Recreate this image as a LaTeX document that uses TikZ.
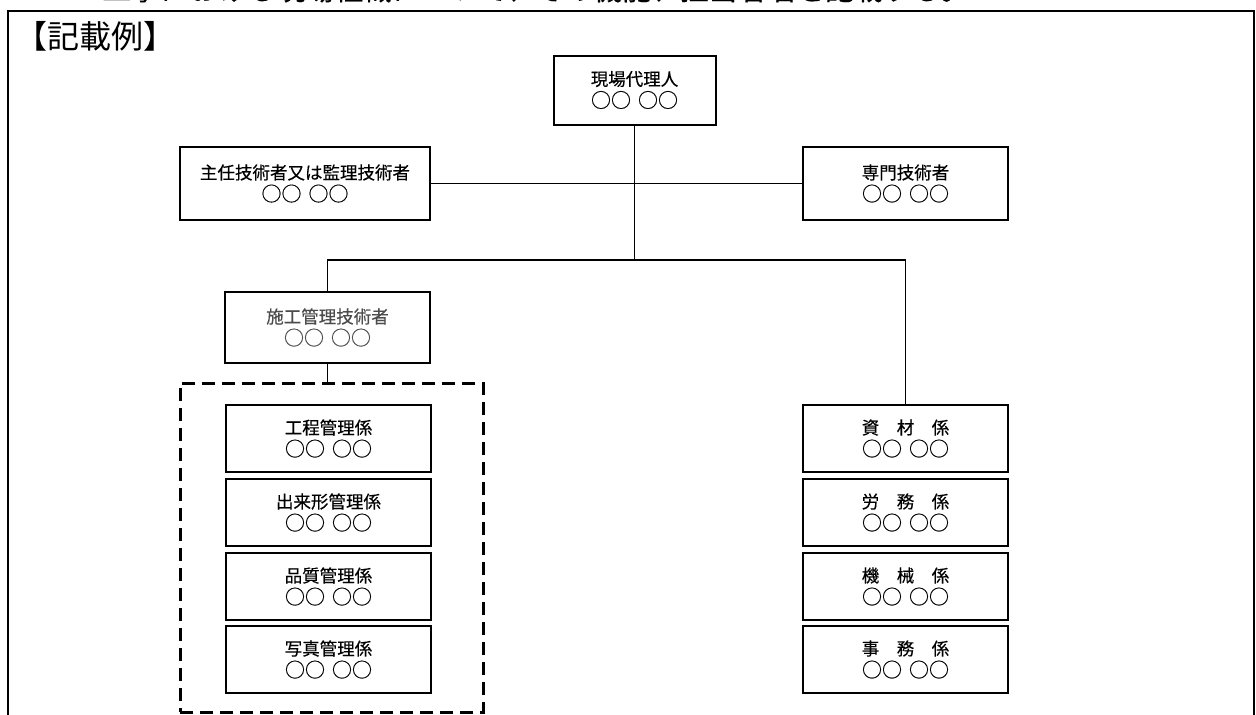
\documentclass[tikz,border=0pt]{standalone}
\usepackage{fontspec}
\setmainfont{Noto Sans CJK JP}
\newfontfamily\boxfont{Noto Sans CJK JP}[FakeBold=0.4]
\newcommand\maru{{\fontsize{20}{22}\selectfont ○○\hspace{7pt}○○}}
\begin{document}
\begin{tikzpicture}[x=1pt,y=-1pt,
  orgbox/.style={draw, line width=2pt, inner sep=0pt, align=center,
    font=\boxfont\fontsize{17.5}{22}\selectfont},
  wide/.style={minimum width=205pt, minimum height=67pt},
  conn/.style={line width=1.5pt},
  grpbox/.style={draw, line width=3pt, dash pattern=on 13pt off 7pt, inner sep=0pt}]
\useasboundingbox (0,0) rectangle (1256,715);
% clipped top line of text
\node[anchor=base west, inner sep=0pt, font=\boxfont\fontsize{29}{29}\selectfont] (toptext) at (73,0) {・工事における現場組織について、その機能、担当者名を記載する。};
% frame
\draw[line width=2pt] (8,715) -- (8,11) -- (1254,11) -- (1254,715);
\node[anchor=north west, inner sep=0pt, font=\fontsize{32}{32}\selectfont] (title) at (15,21) {【記載例】};
% boxes
\node[orgbox, minimum width=162pt, minimum height=69pt] (dairi) at (634.5,90) {現場代理人\\\maru};
\node[orgbox, minimum width=250pt, minimum height=73pt] (shunin) at (305,183.5) {主任技術者又は監理技術者\\\maru};
\node[orgbox, minimum width=205pt, minimum height=73pt] (senmon) at (905.5,183.5) {専門技術者\\\maru};
\node[orgbox, minimum width=205pt, minimum height=71pt, text=black!70] (sekou) at (327.5,327.5) {施工管理技術者\\\maru};
\node[grpbox, minimum width=303pt, minimum height=329pt] (grp) at (331.5,547.5) {};
\node[orgbox, wide] (koutei) at (328.5,438.5) {工程管理係\\\maru};
\node[orgbox, wide] (dekigata) at (328.5,512.5) {出来形管理係\\\maru};
\node[orgbox, wide] (hinshitsu) at (328.5,586.5) {品質管理係\\\maru};
\node[orgbox, wide] (shashin) at (328.5,659.5) {写真管理係\\\maru};
\node[orgbox, wide] (shizai) at (905.5,438.5) {資　材　係\\\maru};
\node[orgbox, wide] (roumu) at (905.5,512.5) {労　務　係\\\maru};
\node[orgbox, wide] (kikai) at (905.5,586.5) {機　械　係\\\maru};
\node[orgbox, wide] (jimu) at (905.5,659.5) {事　務　係\\\maru};
% connectors
\coordinate (j1) at (dairi.south |- 0,260);
\draw[conn] (dairi.south) -- (j1);
\draw[conn] (shunin.east) -- (senmon.west);
\draw[conn] (sekou.north) -- (sekou.north |- j1) -- (shizai.north |- j1) -- (shizai.north);
\draw[conn] (sekou.south) -- (sekou.south |- grp.north);
\end{tikzpicture}
\end{document}
